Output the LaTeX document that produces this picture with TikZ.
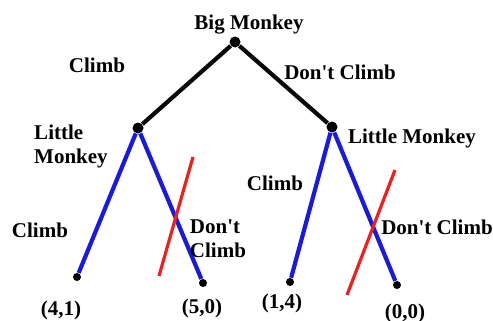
\documentclass[tikz,border=0pt]{standalone}
\usepackage{fontspec}
\setmainfont{Liberation Serif}
\usepackage{tikz}
\usetikzlibrary{calc, positioning}
\usepackage{xcolor}
\definecolor{moveBig}{RGB}{10, 10, 10}
\definecolor{moveLittle}{RGB}{25, 25, 225}
\definecolor{cutRed}{RGB}{240, 30, 30}

\begin{document}
\begin{tikzpicture}[x=0.5pt, y=-0.5pt,
    every node/.style={font=\bfseries\fontsize{10.5pt}{12pt}\selectfont},
    dot/.style={circle, fill=black, inner sep=0pt, minimum size=5.5pt},
    leaf/.style={circle, fill=black, inner sep=0pt, minimum size=4pt},
    bigmove/.style={moveBig, line width=2.1pt},
    littlemove/.style={moveLittle, line width=2.1pt},
    cut/.style={cutRed, line width=1.6pt}]
  \useasboundingbox (0,0) rectangle (493,321);
  % Decision points
  \node[dot] (big) at (235,42) {};
  \node[dot] (littleL) at (138,128) {};
  \node[dot] (littleR) at (332,127) {};
  % Outcomes
  \node[leaf] (cc) at (77,277) {};
  \node[leaf] (cd) at (203,283) {};
  \node[leaf] (dc) at (290,282) {};
  \node[leaf] (dd) at (397,285) {};
  % Moves
  \draw[bigmove] (big) -- (littleL);
  \draw[bigmove] (big) -- (littleR);
  \draw[littlemove] (littleL) -- (cc);
  \draw[littlemove] (littleL) -- (cd);
  \draw[littlemove] (littleR) -- (dc);
  \draw[littlemove] (littleR) -- (dd);
  % Struck-out choices
  \coordinate (cutLtop) at (193,157);
  \coordinate (cutLbot) at (159,276);
  \coordinate (cutRtop) at (395,170);
  \coordinate (cutRbot) at (347,295);
  \draw[cut] (cutLtop) -- (cutLbot);
  \draw[cut] (cutRtop) -- (cutRbot);
  % Labels
  \node (bigLbl) at (249,25) {Big Monkey};
  \node (climbTop) at (97,65) {Climb};
  \node (dontTop) at (340,72) {Don\textquotesingle t Climb};
  \node[align=left] (littleLLbl) at (71,146) {Little\\Monkey};
  \node (littleRLbl) at (412,138) {Little Monkey};
  \node (climbL) at (40,230) {Climb};
  \node[align=left] (dontL) at (218,239) {Don\textquotesingle t\\Climb};
  \node (climbR) at (275,183) {Climb};
  \node (dontR) at (437,227) {Don\textquotesingle t Climb};
  % Payoffs
  \node (payCC) at (61,310) {(4,1)};
  \node (payCD) at (202,308) {(5,0)};
  \node (payDC) at (282,303) {(1,4)};
  \node (payDD) at (405,313) {(0,0)};
\end{tikzpicture}
\end{document}
